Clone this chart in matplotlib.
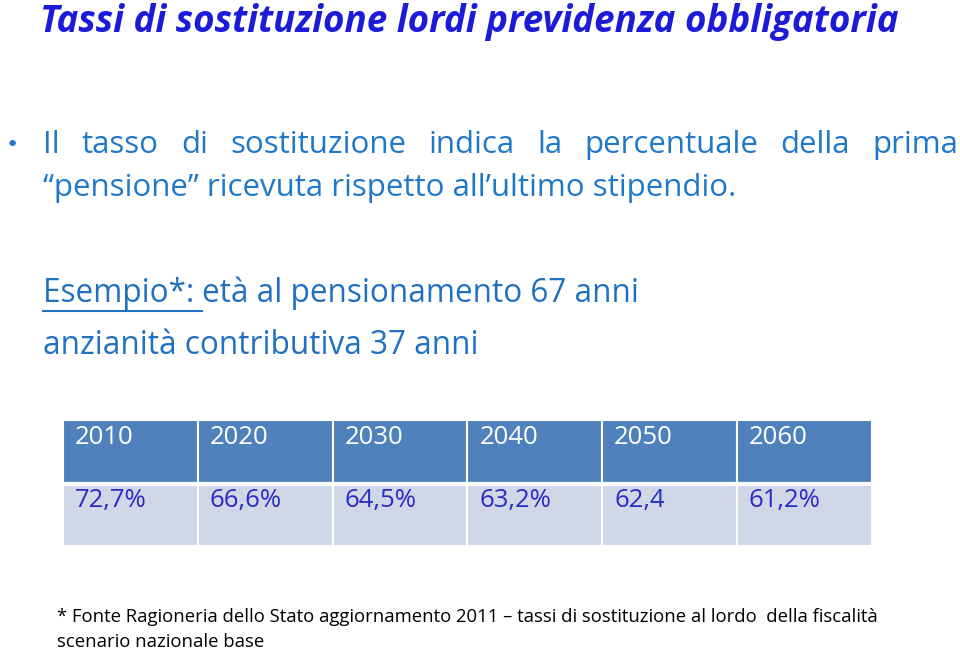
import matplotlib
matplotlib.use("Agg")
import matplotlib.pyplot as plt
from matplotlib.patches import Rectangle

years = ["2010", "2020", "2030", "2040", "2050", "2060"]
rates = ["72,7%", "66,6%", "64,5%", "63,2%", "62,4", "61,2%"]

title = "Tassi di sostituzione lordi previdenza obbligatoria"
bullet_l1 = ["Il", "tasso", "di", "sostituzione", "indica", "la", "percentuale", "della", "prima"]
bullet_l2 = "\u201cpensione\u201d ricevuta rispetto all\u2019ultimo stipendio."
esempio_u = "Esempio*: "
esempio_rest = "età al pensionamento 67 anni"
esempio_l2 = "anzianità contributiva 37 anni"
foot1 = "* Fonte Ragioneria dello Stato aggiornamento 2011 \u2013 tassi di sostituzione al lordo  della fiscalità"
foot2 = "scenario nazionale base"

fig = plt.figure(figsize=(9.6, 6.52), dpi=100)
ax = fig.add_axes([0, 0, 1, 1])
ax.set_xlim(0, 960)
ax.set_ylim(652, 0)
ax.axis("off")

fam = ["Open Sans", "DejaVu Sans"]
blue_t = "#1c1cd8"
blue_b = "#1f78c8"
blue_e = "#1f70c0"

ax.text(40, 22, title, fontsize=26.5, fontweight="bold", fontstyle="italic",
        color=blue_t, family=fam, va="center", ha="left")

# bullet
ax.text(12, 145, "\u2022", fontsize=16, color=blue_b, va="center", ha="center", family="DejaVu Sans")
# justified first line
x0, x1 = 43, 958
fig.canvas.draw()
r = fig.canvas.get_renderer()
ws = []
arts = []
for w in bullet_l1:
    t = ax.text(0, 145, w, fontsize=22.5, color=blue_b, family=fam, va="center", ha="left")
    bb = t.get_window_extent(renderer=r)
    ws.append(bb.width)
    arts.append(t)
gap = ((x1 - x0) - sum(ws)) / (len(bullet_l1) - 1)
cx = x0
for t, w in zip(arts, ws):
    t.set_x(cx)
    cx += w + gap
ax.text(43, 188, bullet_l2, fontsize=22.5, color=blue_b, family=fam, va="center", ha="left")

# Esempio
te = ax.text(43, 293, esempio_u, fontsize=22.7, color=blue_e, family=fam, va="center", ha="left")
bb = te.get_window_extent(renderer=r)
ax.plot([43, 43 + bb.width], [311, 311], color=blue_e, lw=1.5)
ax.text(43 + bb.width, 293, esempio_rest, fontsize=22.7, color=blue_e, family=fam, va="center", ha="left")
ax.text(43, 346, esempio_l2, fontsize=22.7, color=blue_e, family=fam, va="center", ha="left")

# table
tx0, tw = 63, 134.8
hy0, hy1 = 420, 484
dy0, dy1 = 484, 546
for i, (yr, rt) in enumerate(zip(years, rates)):
    xl = tx0 + i * tw
    ax.add_patch(Rectangle((xl, hy0), tw, hy1 - hy0, facecolor="#4f81bd", edgecolor="white", lw=1.5))
    ax.add_patch(Rectangle((xl, dy0), tw, dy1 - dy0, facecolor="#d0d8e8", edgecolor="white", lw=1.5))
    ax.text(xl + 12, 438, yr, fontsize=18.5, color="white", family=fam, va="center", ha="left")
    ax.text(xl + 12, 501, rt, fontsize=18.5, color="#2a2ac8", family=fam, va="center", ha="left")
ax.plot([tx0, tx0 + 6 * tw], [hy1, hy1], color="white", lw=3)

ax.text(57, 617, foot1, fontsize=13.3, color="black", family=fam, va="center", ha="left")
ax.text(57, 642, foot2, fontsize=13.3, color="black", family=fam, va="center", ha="left")

fig.savefig("out.png", dpi=100)
